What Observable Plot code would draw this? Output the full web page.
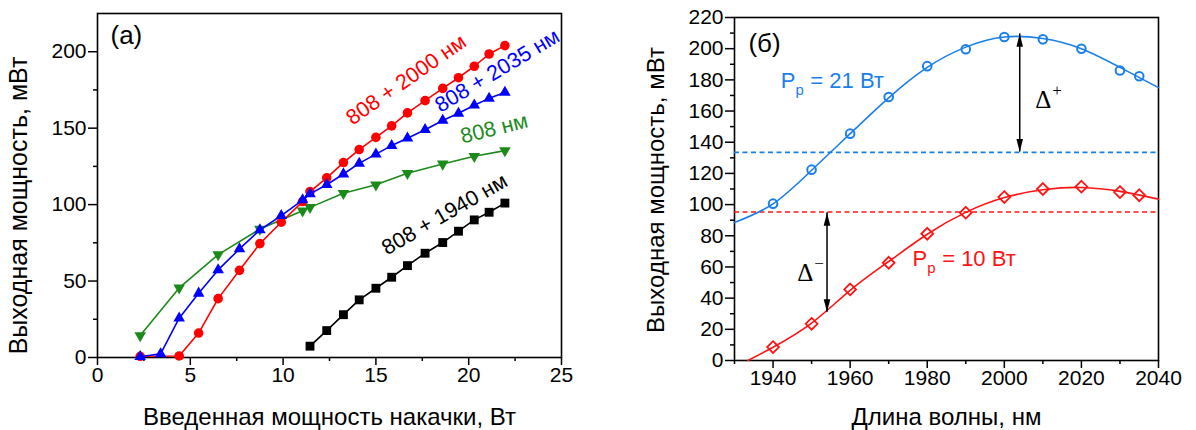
<!DOCTYPE html>
<html><head><meta charset="utf-8">
<script src="https://cdn.jsdelivr.net/npm/d3@7"></script>
<script src="https://cdn.jsdelivr.net/npm/@observablehq/plot@0.6"></script>
<style>
body{margin:0;background:#fff;}
#wrap{display:flex;width:1196px;height:430px;overflow:hidden;}
</style></head><body><div id="wrap"></div>
<script>
// ---------- Panel (a) data ----------
const redX   = [2.3,4.4,5.45,6.5,7.65,8.75,9.9,11.05,11.45,12.35,13.25,14.1,15.0,15.85,16.7,17.65,18.6,19.45,20.3,21.1,21.95];
const redY   = [0.8,1,16,38.5,57,74.5,88.5,102,108.5,117.5,127.5,136,144,151.5,160,168,176,183,190.5,198.5,204];
const blueX  = [2.3,3.4,4.4,5.45,6.5,7.65,8.75,9.9,11.05,11.45,12.35,13.25,14.1,15.0,15.85,16.7,17.65,18.6,19.45,20.3,21.1,21.95];
const blueY  = [0.5,2.4,25.7,42,57.3,71,83.4,92.8,103,107,113,120,127,133,138.6,143.4,149,155,159.7,165,169.5,173.4];
const greenX = [2.3,4.4,6.5,8.75,11.05,11.45,13.25,15.0,16.7,18.6,20.3,21.95];
const greenY = [14.4,45.5,67.3,84,96,98.2,107.4,113,120.5,126.6,131.6,135.3];
const blackX = [11.45,12.35,13.25,14.1,15.0,15.85,16.7,17.65,18.6,19.45,20.3,21.1,21.95];
const blackY = [7.4,17.6,28,37.7,45.3,52.5,60.1,68.2,75.2,82.6,90,95,101];
const xTicksA = [0,5,10,15,20,25];
const xMinorA = [2.5,7.5,12.5,17.5,22.5];
const yTicksA = [0,50,100,150,200];
const yMinorA = [25,75,125,175];
const seriesLabelsA = ["808 + 2000 нм","808 + 2035 нм","808 нм","808 + 1940 нм"];

// ---------- Panel (б) data ----------
const wl   = [1940,1950,1960,1970,1980,1990,2000,2010,2020,2030,2035];
const p21  = [100.6,122.4,145.5,169,188.8,199.6,207.5,206,200,186,182.3];
const p10  = [8.6,23.5,45.6,62.7,81.3,94.8,104.8,110,111.5,108,106];
const fit21Wl = [1930,1940,1950,1960,1970,1980,1990,2000,2010,2020,2030,2040];
const fit21   = [88.5,100.5,122,145.5,168.5,188,201,207.5,206.5,200,188,175];
const fit10Wl = [1933.5,1940,1950,1960,1970,1980,1990,2000,2010,2020,2030,2040];
const fit10   = [0,8.5,24,45,63.5,81,95,104.5,109.5,111,108.5,103.5];
const refLevels = [133.5, 95.2];
const arrowX = [2004, 1954];
const arrowTop = [209.5, 94.8];
const arrowBottom = [133.7, 31];
const xTicksB = [1940,1960,1980,2000,2020,2040];
const xMinorB = [1930,1950,1970,1990,2010,2030];
const yTicksB = [0,20,40,60,80,100,120,140,160,180,200,220];
const yMinorB = [10,30,50,70,90,110,130,150,170,190,210];
const pumpLabels = ["= 21 Вт","= 10 Вт"];

const fam = "'Liberation Sans', Arial, Helvetica, sans-serif";
const serif = "'Liberation Serif', 'DejaVu Serif', serif";
const rows = (xs, ys) => xs.map((x, i) => ({x, y: ys[i]}));
const triDown = {draw(c, size){ const y = -Math.sqrt(size/(Math.sqrt(3)*3)); c.moveTo(0,-2*y); c.lineTo(-Math.sqrt(3)*y, y); c.lineTo(Math.sqrt(3)*y, y); c.closePath(); }};
const headUp = {draw(c){ c.moveTo(0,0); c.lineTo(-3.3,13); c.lineTo(3.3,13); c.closePath(); }};
const headDown = {draw(c){ c.moveTo(0,0); c.lineTo(-3.3,-13); c.lineTo(3.3,-13); c.closePath(); }};

const cRed = "#ff0000", cBlue = "#0000ff", cGreen = "#1b8a1b", cBlack = "#000000";
const cBlue2 = "#1a7fe8", cRed2 = "#ff1414";

function series(xs, ys, color, symbol, r) {
  const d = rows(xs, ys);
  return [
    Plot.line(d, {x: "x", y: "y", stroke: color, strokeWidth: 1.6}),
    Plot.dot(d, {x: "x", y: "y", fill: color, stroke: null, symbol, r})
  ];
}
const lbl = (t, x, y, color, rot, fs) => Plot.text([t], {x, y, text: d => d, rotate: rot, textAnchor: "start", lineAnchor: "bottom", fill: color, fontSize: fs});

const left = Plot.plot({
  width: 600, height: 430,
  marginLeft: 97, marginRight: 39, marginTop: 13, marginBottom: 73,
  style: {fontFamily: fam, background: "white", color: "black"},
  x: {domain: [0, 25]}, y: {domain: [0, 225]},
  marks: [
    Plot.axisX({ticks: xTicksA, tickSize: 8, tickPadding: 2, fontSize: 21, strokeWidth: 1.5, label: null}),
    Plot.axisX({ticks: xMinorA, tickSize: 4, tickFormat: () => "", strokeWidth: 1.5, label: null}),
    Plot.axisY({ticks: yTicksA, tickSize: 9, tickPadding: 2, fontSize: 21, strokeWidth: 1.5, label: null}),
    Plot.axisY({ticks: yMinorA, tickSize: 4, tickFormat: () => "", strokeWidth: 1.5, label: null}),
    Plot.frame({strokeWidth: 1.6}),
    ...series(greenX, greenY, cGreen, triDown, 4.3),
    ...series(blackX, blackY, cBlack, "square", 5),
    ...series(redX, redY, cRed, "circle", 4.8),
    ...series(blueX, blueY, cBlue, "triangle", 4.3),
    lbl(seriesLabelsA[0], 13.74, 151.6, cRed, -35, 21.5),
    lbl(seriesLabelsA[1], 18.48, 160, cBlue, -31, 21.5),
    lbl(seriesLabelsA[2], 19.67, 139.9, cGreen, -14, 21.5),
    lbl(seriesLabelsA[3], 15.6, 66.7, cBlack, -30, 21.5),
    Plot.text(["(a)"], {x: 0.7, y: 205, text: d => d, textAnchor: "start", lineAnchor: "bottom", fontSize: 26}),
    Plot.text(["Выходная мощность, мВт"], {frameAnchor: "left", text: d => d, rotate: -90, dx: -79, dy: 20, textAnchor: "middle", lineAnchor: "middle", fontSize: 25}),
    Plot.text(["Введенная мощность накачки, Вт"], {frameAnchor: "bottom", text: d => d, dy: 60, textAnchor: "middle", lineAnchor: "middle", fontSize: 24})
  ]
});

function pump(txt, x, y, color, fs) {
  const pw = 0.667*fs, sfs = 0.68*fs, sw = 0.556*sfs;
  return [
    Plot.text(["P"], {x, y, text: d => d, textAnchor: "start", lineAnchor: "bottom", fill: color, fontSize: fs}),
    Plot.text(["p"], {x, y, text: d => d, dx: pw, dy: 0.3*fs, textAnchor: "start", lineAnchor: "bottom", fill: color, fontSize: sfs}),
    Plot.text([txt], {x, y, text: d => d, dx: pw + sw + 0.3*fs, textAnchor: "start", lineAnchor: "bottom", fill: color, fontSize: fs})
  ];
}
function delta(sign, x, y) {
  return [
    Plot.text(["Δ"], {x, y, text: d => d, textAnchor: "start", lineAnchor: "bottom", fontSize: 25, fontFamily: serif}),
    Plot.text([sign], {x, y, text: d => d, dx: 17, dy: -12, textAnchor: "start", lineAnchor: "bottom", fontSize: 17, fontFamily: serif})
  ];
}

const right = Plot.plot({
  width: 596, height: 430,
  marginLeft: 134, marginRight: 38, marginTop: 17, marginBottom: 70,
  style: {fontFamily: fam, background: "white", color: "black"},
  x: {domain: [1930, 2040]}, y: {domain: [0, 220]},
  marks: [
    Plot.axisX({ticks: xTicksB, tickSize: 8, tickPadding: 2, fontSize: 21, strokeWidth: 1.5, tickFormat: d => String(d), label: null}),
    Plot.axisX({ticks: xMinorB, tickSize: 4, tickFormat: () => "", strokeWidth: 1.5, label: null}),
    Plot.axisY({ticks: yTicksB, tickSize: 9, tickPadding: 2, fontSize: 21, strokeWidth: 1.5, label: null}),
    Plot.axisY({ticks: yMinorB, tickSize: 4, tickFormat: () => "", strokeWidth: 1.5, label: null}),
    Plot.frame({strokeWidth: 1.6}),
    Plot.ruleY([refLevels[0]], {stroke: cBlue2, strokeWidth: 1.6, strokeDasharray: "5,3.5"}),
    Plot.ruleY([refLevels[1]], {stroke: cRed2, strokeWidth: 1.6, strokeDasharray: "5,3.5"}),
    Plot.line(rows(fit21Wl, fit21), {x: "x", y: "y", stroke: cBlue2, strokeWidth: 1.6, curve: "natural"}),
    Plot.line(rows(fit10Wl, fit10), {x: "x", y: "y", stroke: cRed2, strokeWidth: 1.6, curve: "natural"}),
    Plot.dot(rows(wl, p21), {x: "x", y: "y", stroke: cBlue2, fill: "none", strokeWidth: 2, r: 4.3, symbol: "circle"}),
    Plot.dot(rows(wl, p10), {x: "x", y: "y", stroke: cRed2, fill: "none", strokeWidth: 1.8, r: 5.3, symbol: "diamond2"}),
    Plot.ruleX(arrowX.map((x, i) => ({x, y1: arrowTop[i], y2: arrowBottom[i]})), {x: "x", y1: "y1", y2: "y2", strokeWidth: 1.5}),
    Plot.dot(arrowX.map((x, i) => ({x, y: arrowTop[i]})), {x: "x", y: "y", symbol: headUp, fill: "black", stroke: null}),
    Plot.dot(arrowX.map((x, i) => ({x, y: arrowBottom[i]})), {x: "x", y: "y", symbol: headDown, fill: "black", stroke: null}),
    ...delta("+", 2008, 162),
    ...delta("−", 1946.3, 51.3),
    ...pump(pumpLabels[0], 1942, 174.6, cBlue2, 22),
    ...pump(pumpLabels[1], 1976.2, 60.3, cRed2, 22),
    Plot.text(["(б)"], {x: 1933.6, y: 197.7, text: d => d, textAnchor: "start", lineAnchor: "bottom", fontSize: 26}),
    Plot.text(["Выходная мощность, мВт"], {frameAnchor: "left", text: d => d, rotate: -90, dx: -78, dy: 1, textAnchor: "middle", lineAnchor: "middle", fontSize: 24}),
    Plot.text(["Длина волны, нм"], {frameAnchor: "bottom", text: d => d, dy: 57, textAnchor: "middle", lineAnchor: "middle", fontSize: 24})
  ]
});

document.getElementById("wrap").append(left, right);
</script>
</body></html>
